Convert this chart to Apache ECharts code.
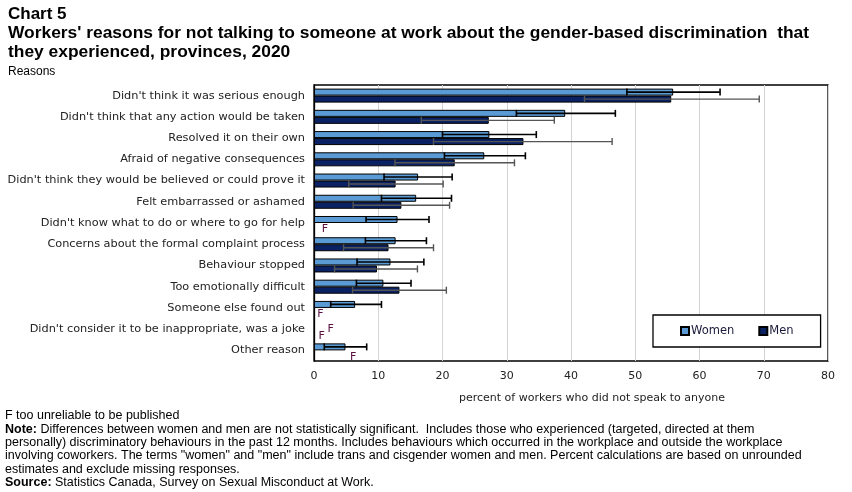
<!DOCTYPE html>
<html><head><meta charset="utf-8">
<script src="https://cdn.jsdelivr.net/npm/echarts@6/dist/echarts.min.js"></script>
<style>html,body{margin:0;padding:0;background:#fff}#c{width:852px;height:492px}</style>
</head><body><div id="c"></div>
<script>
var categories = [
  "Didn't think it was serious enough",
  "Didn't think that any action would be taken",
  "Resolved it on their own",
  "Afraid of negative consequences",
  "Didn't think they would be believed or could prove it",
  "Felt embarrassed or ashamed",
  "Didn't know what to do or where to go for help",
  "Concerns about the formal complaint process",
  "Behaviour stopped",
  "Too emotionally difficult",
  "Someone else found out",
  "Didn't consider it to be inappropriate, was a joke",
  "Other reason"
];
var women     = [55.9, 39.1, 27.3, 26.5, 16.2, 15.9, 13.0, 12.7, 11.9, 10.8, 6.4, null, 4.9];
var womenLow  = [48.7, 31.5, 20.0, 20.3, 10.9, 10.5, 8.1, 8.0, 6.7, 6.6, 2.6, null, 1.6];
var womenHigh = [63.2, 46.9, 34.6, 32.9, 21.5, 21.4, 17.9, 17.5, 17.1, 15.1, 10.5, null, 8.2];
var men       = [55.6, 27.2, 32.6, 21.9, 12.7, 13.6, null, 11.6, 9.8, 13.3, null, null, null];
var menLow    = [42.1, 16.7, 18.6, 12.6, 5.4, 6.1, null, 4.6, 3.2, 6.0, null, null, null];
var menHigh   = [69.3, 37.4, 46.4, 31.2, 20.1, 21.1, null, 18.6, 16.1, 20.6, null, null, null];
// "F" (too unreliable) markers: category index, series (0 women, 1 men), x position
var fRows   = [6, 10, 11, 11, 12];
var fSeries = [1, 1, 0, 1, 1];
var fX      = [1.7, 1.0, 2.6, 1.2, 6.1];
var xTicks = [0, 10, 20, 30, 40, 50, 60, 70, 80];

var GAP = 0.34;
var errData = [];
for (var i = 0; i < categories.length; i++) {
  if (womenLow[i] != null) errData.push([i, womenLow[i], womenHigh[i], 0]);
  if (menLow[i] != null) errData.push([i, menLow[i], menHigh[i], 1]);
}
var fData = fRows.map(function (r, k) { return [r, fX[k], fSeries[k]]; });

function barCenterY(api, cat, s) {
  var c = api.coord([0, cat]);
  var band = api.size([0, 1])[1];
  var bw = band * (1 - GAP) / 2;
  return { y: c[1] + (s === 0 ? -bw / 2 : bw / 2), bw: bw };
}

var chart = echarts.init(document.getElementById('c'));
var txtFont = 'DejaVu Sans';
var narrow = 'Liberation Sans';
chart.setOption({
  animation: false,
  title: [
    { text: 'Chart 5', left: 3, top: 1, textStyle: { fontFamily: narrow, fontWeight: 'bold', fontSize: 17, color: '#000' } },
    { text: "Workers' reasons for not talking to someone at work about the gender-based discrimination  that\nthey experienced, provinces, 2020",
      left: 3, top: 19, textStyle: { fontFamily: narrow, fontWeight: 'bold', fontSize: 17.4, lineHeight: 18.5, color: '#000' } },
    { text: 'Reasons', left: 3, top: 61, textStyle: { fontFamily: narrow, fontWeight: 'normal', fontSize: 12, color: '#000' } },
    { text: 'F too unreliable to be published\n{b|Note:} Differences between women and men are not statistically significant.  Includes those who experienced (targeted, directed at them\npersonally) discriminatory behaviours in the past 12 months. Includes behaviours which occurred in the workplace and outside the workplace\ninvolving coworkers. The terms "women" and "men" include trans and cisgender women and men. Percent calculations are based on unrounded\nestimates and exclude missing responses.\n{b|Source:} Statistics Canada, Survey on Sexual Misconduct at Work.',
      left: 0, top: 404,
      textStyle: { fontFamily: narrow, fontWeight: 'normal', fontSize: 12.5, lineHeight: 13.4, color: '#000',
        rich: { b: { fontFamily: narrow, fontWeight: 'bold', fontSize: 12.5, lineHeight: 13.4, color: '#000' } } } }
  ],
  legend: {
    data: ['Women', 'Men'], left: 653, top: 315, orient: 'horizontal',
    padding: [10, 27, 10, 27], itemGap: 24, itemWidth: 8, itemHeight: 8, icon: 'rect',
    borderColor: '#000', borderWidth: 1.3, backgroundColor: '#fff',
    textStyle: { fontFamily: txtFont, fontSize: 11.5, color: '#1a1a3a', padding: [0, 0, 0, -3] }
  },
  grid: { left: 314, right: 24, top: 85, bottom: 131, show: true, borderColor: '#000', borderWidth: 1.3, containLabel: false },
  xAxis: {
    type: 'value', min: 0, max: 80, interval: 10,
    axisLine: { show: false }, axisTick: { show: false },
    splitLine: { show: true, lineStyle: { color: '#d4d4d4', width: 1 } },
    axisLabel: { fontFamily: txtFont, fontSize: 11, color: '#222', margin: 10,
      formatter: function (v) { return xTicks.indexOf(v) >= 0 ? String(v) : ''; } },
    name: 'percent of workers who did not speak to anyone', nameLocation: 'middle', nameGap: 32,
    nameTextStyle: { fontFamily: txtFont, fontSize: 11, color: '#222', padding: [0, 0, 0, 42] }
  },
  yAxis: {
    type: 'category', data: categories, inverse: true,
    axisLine: { show: true, lineStyle: { color: '#000', width: 1.3 } }, axisTick: { show: false },
    axisLabel: { fontFamily: txtFont, fontSize: 11.3, color: '#222', margin: 9 }
  },
  series: [
    { name: 'Women', type: 'bar', data: women, barGap: '0%', barCategoryGap: (GAP * 100) + '%',
      itemStyle: { color: '#5B9BD5', borderColor: '#000', borderWidth: 1 } },
    { name: 'Men', type: 'bar', data: men, barGap: '0%', barCategoryGap: (GAP * 100) + '%',
      itemStyle: { color: '#0A2263', borderColor: '#000', borderWidth: 1 } },
    { type: 'custom', name: 'err', data: errData, z: 10, silent: true,
      encode: { x: [1, 2], y: 0 },
      renderItem: function (params, api) {
        var cat = api.value(0), s = api.value(3);
        var b = barCenterY(api, cat, s);
        var x1 = api.coord([api.value(1), cat])[0];
        var x2 = api.coord([api.value(2), cat])[0];
        var h = b.bw / 2;
        var st = { stroke: s === 0 ? '#000' : '#555', lineWidth: s === 0 ? 1.6 : 1.4 };
        return { type: 'group', children: [
          { type: 'line', shape: { x1: x1, y1: b.y, x2: x2, y2: b.y }, style: st },
          { type: 'line', shape: { x1: x1, y1: b.y - h, x2: x1, y2: b.y + h }, style: st },
          { type: 'line', shape: { x1: x2, y1: b.y - h, x2: x2, y2: b.y + h }, style: st }
        ] };
      } },
    { type: 'custom', name: 'F', data: fData, z: 10, silent: true,
      encode: { x: 1, y: 0 },
      renderItem: function (params, api) {
        var cat = api.value(0), s = api.value(2);
        var b = barCenterY(api, cat, s);
        var x = api.coord([api.value(1), cat])[0];
        return { type: 'text', x: x, y: b.y + 3,
          style: { text: 'F', fontFamily: txtFont, fontSize: 11, fill: '#5A1040', align: 'center', verticalAlign: 'middle' } };
      } }
  ]
});
</script></body></html>
